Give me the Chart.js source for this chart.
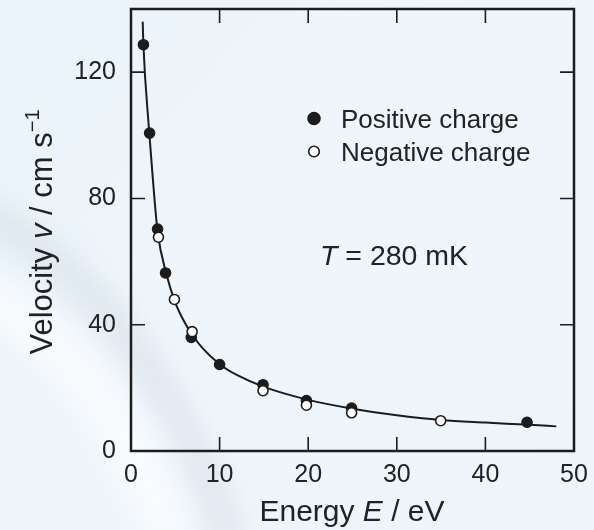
<!DOCTYPE html>
<html>
<head>
<meta charset="utf-8">
<script src="https://cdn.jsdelivr.net/npm/chart.js@4.4.1/dist/chart.umd.min.js"></script>
<style>
  html, body { margin: 0; padding: 0; background: #edf4fa; }
  #wrap { position: relative; width: 594px; height: 530px; }
</style>
</head>
<body>
<div id="wrap"><canvas id="chart" width="594" height="530"></canvas></div>
<script>
// data
const posE = [1.4, 2.1, 3.0, 3.9, 6.8, 10.0, 14.9, 19.8, 24.9, 44.7];
const posV = [128.7, 100.7, 70.3, 56.4, 36.0, 27.4, 21.0, 16.0, 13.6, 9.1];
const negE = [3.1, 4.9, 6.9, 14.9, 19.8, 24.9, 34.95];
const negV = [67.7, 48.0, 37.8, 19.1, 14.5, 12.1, 9.6];
// fitted curve
const curveE = [1.32, 1.4, 2, 2.5, 3, 4, 5, 6, 7, 8, 10, 12, 15, 20, 25, 30, 35, 40, 45, 48];
const curveV = [136, 128.7, 103, 85, 69.5, 56, 47, 41, 36.5, 32.8, 27.5, 24, 20.3, 16.2, 13.4, 11.3, 9.8, 9.0, 8.3, 7.8];
const xTicks = [0, 10, 20, 30, 40, 50];
const yTicks = [0, 40, 80, 120];

const ink = '#1c1c1c';
const txt = '#222';
const FONT = '"Liberation Sans", Arial, sans-serif';

const toPts = (xs, ys) => xs.map((x, i) => ({ x: x, y: ys[i] }));

const backdrop = {
  id: 'backdrop',
  beforeDraw(chart) {
    const ctx = chart.ctx;
    const w = chart.width, h = chart.height;
    ctx.save();
    const g = ctx.createLinearGradient(0, 0, w, h);
    g.addColorStop(0, '#eaf3fa');
    g.addColorStop(0.5, '#eff6fb');
    g.addColorStop(1, '#edf4fa');
    ctx.fillStyle = g;
    ctx.fillRect(0, 0, w, h);
    ctx.filter = 'blur(14px)';
    ctx.strokeStyle = 'rgba(150,160,178,0.2)';
    ctx.lineWidth = 26;
    ctx.beginPath();
    ctx.moveTo(-20, 210);
    ctx.quadraticCurveTo(150, 300, 230, 540);
    ctx.stroke();
    ctx.strokeStyle = 'rgba(255,255,255,0.7)';
    ctx.lineWidth = 40;
    ctx.beginPath();
    ctx.moveTo(-20, 290);
    ctx.quadraticCurveTo(120, 380, 170, 540);
    ctx.stroke();
    ctx.restore();
  }
};

const frame = {
  id: 'frame',
  afterDatasetsDraw(chart) {
    const ctx = chart.ctx;
    const a = chart.chartArea;
    const xs = chart.scales.x, ys = chart.scales.y;
    const len = 14;
    ctx.save();
    ctx.strokeStyle = ink;
    ctx.lineWidth = 1.6;
    ctx.beginPath();
    xTicks.slice(1, -1).forEach(v => {
      const px = xs.getPixelForValue(v);
      ctx.moveTo(px, a.bottom); ctx.lineTo(px, a.bottom - len);
      ctx.moveTo(px, a.top); ctx.lineTo(px, a.top + len);
    });
    yTicks.slice(1).forEach(v => {
      const py = ys.getPixelForValue(v);
      ctx.moveTo(a.left, py); ctx.lineTo(a.left + len, py);
      ctx.moveTo(a.right, py); ctx.lineTo(a.right - len, py);
    });
    ctx.stroke();
    ctx.lineWidth = 2.5;
    ctx.strokeRect(a.left, a.top, a.right - a.left, a.bottom - a.top);
    ctx.restore();
  }
};

function runs(ctx, parts, x, y, align) {
  // parts: [text, font, dy]
  let total = 0;
  parts.forEach(p => { ctx.font = p[1]; total += ctx.measureText(p[0]).width; });
  let cx = align === 'center' ? x - total / 2 : x;
  parts.forEach(p => {
    ctx.font = p[1];
    ctx.fillText(p[0], cx, y + (p[2] || 0));
    cx += ctx.measureText(p[0]).width;
  });
}

const labels = {
  id: 'labels',
  afterDraw(chart) {
    const ctx = chart.ctx;
    const a = chart.chartArea;
    const ds = chart.data.datasets;
    ctx.save();
    ctx.fillStyle = txt;
    ctx.textBaseline = 'alphabetic';
    ctx.textAlign = 'left';

    // x title
    runs(ctx, [
      ['Energy ', '30px ' + FONT],
      ['E', 'italic 30px ' + FONT],
      [' / eV', '30px ' + FONT]
    ], 352, 521, 'center');

    // y title
    ctx.save();
    ctx.translate(52, 232);
    ctx.rotate(-Math.PI / 2);
    runs(ctx, [
      ['Velocity ', '31px ' + FONT],
      ['v', 'italic 31px ' + FONT],
      [' / cm s', '31px ' + FONT],
      ['\u22121', '20px ' + FONT, -13]
    ], 0, 0, 'center');
    ctx.restore();

    // legend
    const rows = [
      [ds[1], 'Positive charge', 118.5, 6, 128],
      [ds[2], 'Negative charge', 151.5, 5.3, 161]
    ];
    rows.forEach(r => {
      ctx.beginPath();
      ctx.arc(314, r[2], r[3], 0, Math.PI * 2);
      ctx.fillStyle = r[0].pointBackgroundColor;
      ctx.fill();
      ctx.lineWidth = 1.6;
      ctx.strokeStyle = r[0].pointBorderColor;
      ctx.stroke();
      ctx.fillStyle = txt;
      ctx.font = '26px ' + FONT;
      ctx.fillText(r[1], 341, r[4]);
    });

    // temperature note
    runs(ctx, [
      ['T', 'italic 28.5px ' + FONT],
      [' = 280 mK', '28.5px ' + FONT]
    ], 320, 265, 'left');
    ctx.restore();
  }
};

new Chart(document.getElementById('chart'), {
  type: 'scatter',
  data: {
    datasets: [
      {
        label: 'fit',
        data: toPts(curveE, curveV),
        showLine: true,
        borderColor: ink,
        borderWidth: 2,
        pointRadius: 0,
        cubicInterpolationMode: 'monotone',
        order: 3
      },
      {
        label: 'Positive charge',
        data: toPts(posE, posV),
        pointRadius: 5.2,
        pointBackgroundColor: ink,
        pointBorderColor: ink,
        pointBorderWidth: 1.2,
        order: 2
      },
      {
        label: 'Negative charge',
        data: toPts(negE, negV),
        pointRadius: 5,
        pointBackgroundColor: '#ffffff',
        pointBorderColor: ink,
        pointBorderWidth: 1.6,
        order: 1
      }
    ]
  },
  options: {
    responsive: false,
    animation: false,
    events: [],
    layout: {
      padding: { left: 0, top: 9, right: 20, bottom: 0 }
    },
    plugins: {
      legend: { display: false },
      tooltip: { enabled: false }
    },
    scales: {
      x: {
        type: 'linear',
        min: 0,
        max: 50,
        afterBuildTicks: s => { s.ticks = xTicks.map(v => ({ value: v })); },
        afterFit: s => { s.height = 79; s.paddingLeft = 0; s.paddingRight = 0; },
        grid: { display: false, drawTicks: false },
        border: { display: false },
        ticks: { padding: 9, color: txt, font: { family: FONT, size: 25 } }
      },
      y: {
        type: 'linear',
        min: 0,
        max: 140,
        afterBuildTicks: s => { s.ticks = yTicks.map(v => ({ value: v })); },
        afterFit: s => { s.width = 131; s.paddingTop = 0; s.paddingBottom = 0; },
        grid: { display: false, drawTicks: false },
        border: { display: false },
        ticks: { padding: 15, color: txt, font: { family: FONT, size: 25 } }
      }
    }
  },
  plugins: [backdrop, frame, labels]
});
</script>
</body>
</html>
